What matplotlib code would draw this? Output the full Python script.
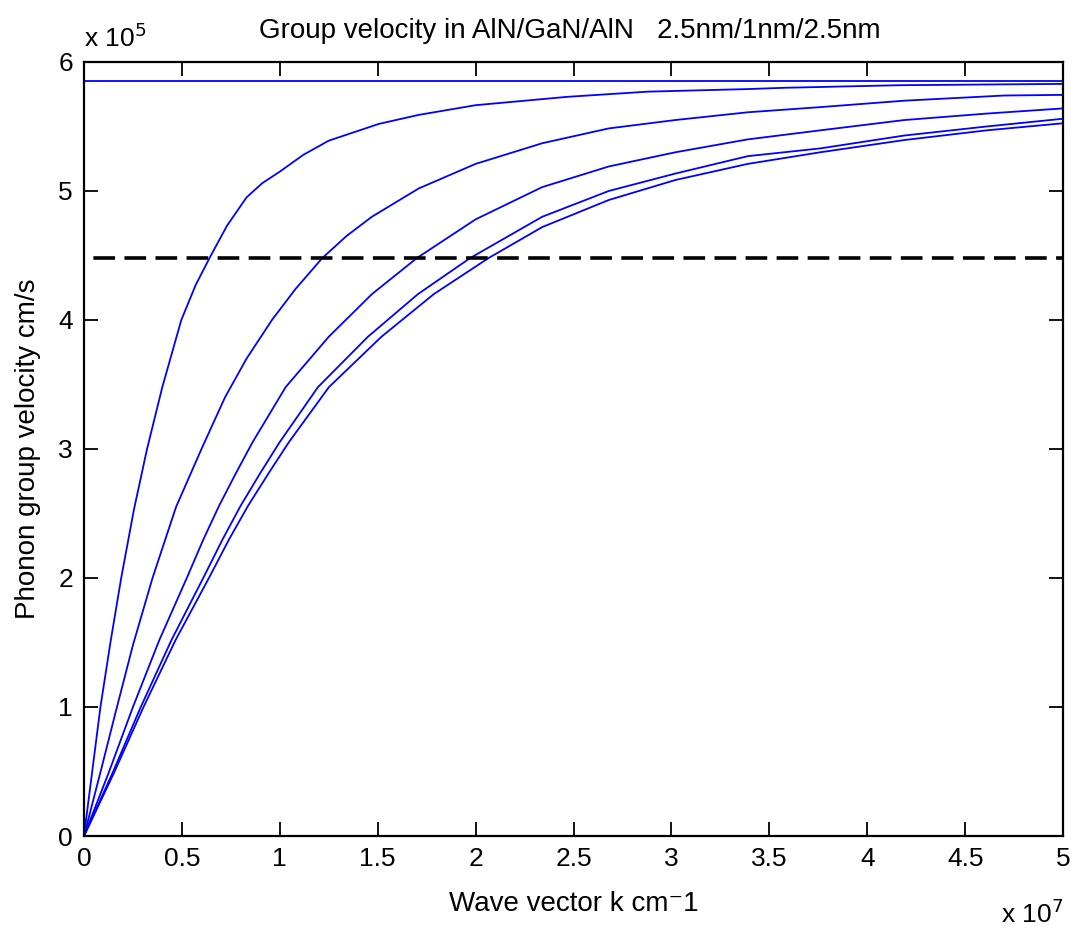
import numpy as np
from matplotlib import pyplot as plt
from matplotlib.ticker import FuncFormatter, MultipleLocator

plt.rcParams['font.family'] = ['Liberation Sans', 'DejaVu Sans']

# wave vector in units of 1e7 cm^-1, group velocity in units of 1e5 cm/s
k_flat = [0, 5.0]
v_flat = [5.855, 5.855]

k1 = [0, 0.042, 0.084, 0.135, 0.19, 0.255, 0.322, 0.40, 0.497, 0.57, 0.641, 0.73,
      0.83, 0.91, 1.0, 1.12, 1.25, 1.506, 1.71, 2.0, 2.47, 2.88, 3.39, 3.58, 4.17, 5.0]
v1 = [0, 0.5, 1.0, 1.5, 2.0, 2.53, 3.0, 3.48, 4.0, 4.27, 4.48, 4.73,
      4.95, 5.06, 5.15, 5.28, 5.39, 5.52, 5.59, 5.665, 5.73, 5.77, 5.79, 5.80, 5.82, 5.83]

k2 = [0, 0.085, 0.165, 0.25, 0.35, 0.47, 0.60, 0.72, 0.83, 0.96, 1.08, 1.217,
      1.34, 1.47, 1.71, 2.0, 2.34, 2.68, 3.02, 3.39, 3.76, 4.19, 4.70, 5.0]
v2 = [0, 0.5, 0.98, 1.48, 2.0, 2.55, 3.0, 3.4, 3.7, 4.0, 4.24, 4.48,
      4.65, 4.80, 5.02, 5.21, 5.37, 5.485, 5.55, 5.61, 5.65, 5.70, 5.74, 5.745]

k3 = [0, 0.125, 0.25, 0.385, 0.525, 0.61, 0.69, 0.775, 0.86, 1.03, 1.25, 1.47,
      1.70, 2.0, 2.34, 2.68, 3.02, 3.39, 3.76, 4.19, 4.61, 5.0]
v3 = [0, 0.486, 1.0, 1.52, 2.0, 2.3, 2.56, 2.81, 3.05, 3.48, 3.87, 4.2,
      4.48, 4.78, 5.03, 5.19, 5.30, 5.40, 5.47, 5.55, 5.60, 5.64]

k4 = [0, 0.145, 0.29, 0.447, 0.609, 0.708, 0.80, 0.899, 0.998, 1.195, 1.45, 1.705,
      1.972, 2.34, 2.68, 3.02, 3.39, 3.76, 4.19, 4.61, 5.0]
v4 = [0, 0.486, 1.0, 1.52, 2.0, 2.3, 2.56, 2.81, 3.05, 3.48, 3.87, 4.2,
      4.48, 4.80, 5.0, 5.135, 5.27, 5.33, 5.43, 5.50, 5.56]

k5 = [0, 0.152, 0.304, 0.468, 0.638, 0.741, 0.838, 0.942, 1.045, 1.251, 1.519, 1.786,
      2.066, 2.34, 2.68, 3.02, 3.39, 3.76, 4.19, 4.61, 5.0]
v5 = [0, 0.486, 1.0, 1.52, 2.0, 2.3, 2.56, 2.81, 3.05, 3.48, 3.87, 4.2,
      4.48, 4.72, 4.93, 5.085, 5.21, 5.30, 5.395, 5.47, 5.525]

k_ref = [0, 5.0]
v_ref = [4.48, 4.48]

fig = plt.figure(figsize=(10.81, 9.32), dpi=100)
ax = fig.add_axes([0.0777, 0.103, 0.9057, 0.8305])

for k, v in [(k_flat, v_flat), (k1, v1), (k2, v2), (k3, v3), (k4, v4), (k5, v5)]:
    ax.plot(np.array(k) * 1e7, np.array(v) * 1e5, color=(0, 0, 1), lw=1.3)

ax.plot(np.array(k_ref) * 1e7, np.array(v_ref) * 1e5, color='k', lw=2.6,
        linestyle=(6.0, (6.0, 2.6)))

ax.set_xlim(0, 5e7)
ax.set_ylim(0, 6e5)
ax.xaxis.set_major_locator(MultipleLocator(0.5e7))
ax.yaxis.set_major_locator(MultipleLocator(1e5))
ax.xaxis.set_major_formatter(FuncFormatter(lambda x, p: '%g' % round(x / 1e7, 2)))
ax.yaxis.set_major_formatter(FuncFormatter(lambda y, p: '%g' % round(y / 1e5, 2)))
ax.tick_params(direction='in', length=10, width=1.3, top=True, right=True,
               labelsize=19, pad=8)
for s in ax.spines.values():
    s.set_linewidth(1.6)

fig.text(0.527, 0.959, 'Group velocity in AlN/GaN/AlN   2.5nm/1nm/2.5nm',
         fontsize=20, ha='center', va='baseline')
ax.set_xlabel('Wave vector k cm\u207b1', fontsize=20, labelpad=14)
ax.set_ylabel('Phonon group velocity cm/s', fontsize=20, labelpad=12)

ax.text(0.0, 1.019, 'x 10$^5$', transform=ax.transAxes, fontsize=19,
        ha='left', va='baseline')
ax.text(1.0, -0.082, 'x 10$^7$', transform=ax.transAxes, fontsize=19,
        ha='right', va='top')

plt.savefig('out.png', dpi=100)
